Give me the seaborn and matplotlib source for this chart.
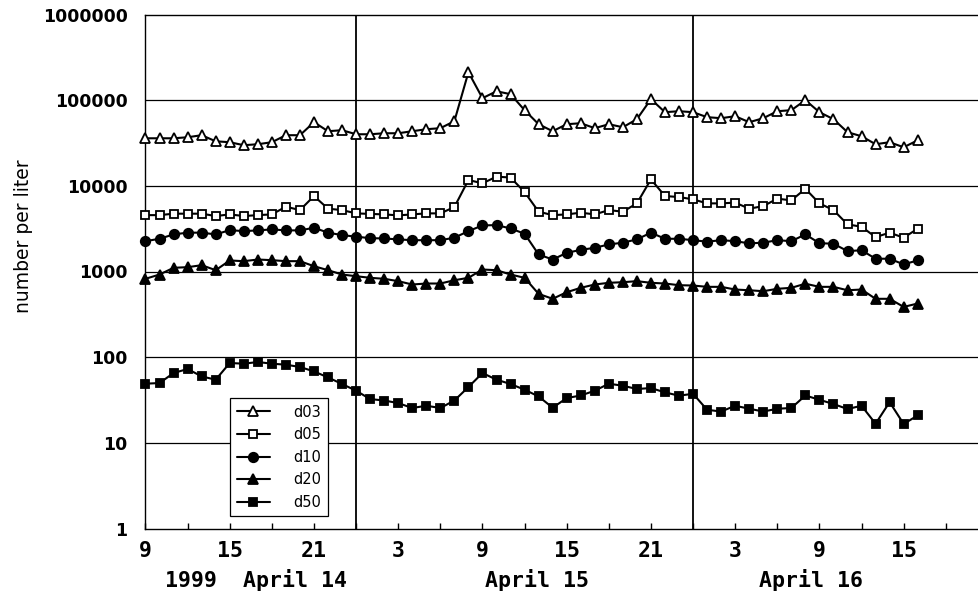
import numpy as np
import pandas as pd
import matplotlib
matplotlib.use("Agg")
import matplotlib.pyplot as plt
from matplotlib.ticker import FixedLocator, FixedFormatter, NullLocator
import seaborn as sns

# ---------------- data ----------------
hours = list(range(56))  # hourly samples starting 1999-04-14 09:00

d03 = [35900, 35900, 35900, 36900, 39000, 33100, 32300, 29800, 30600, 32300,
       39000, 39000, 55300, 43400, 44600, 40000, 40000, 41100, 41100, 43400,
       45800, 47100, 56800, 212000, 105500, 127000, 117500, 76400, 52400, 43400,
       52400, 53800, 47100, 52400, 48300, 60000, 102800, 72400, 74300, 72400,
       63300, 61600, 65000, 55300, 61600, 74300, 76400, 100000, 72400, 60000,
       42300, 37900, 30600, 32300, 28200, 34000]
d05 = [4550, 4550, 4730, 4730, 4730, 4440, 4640, 4440, 4550, 4640,
       5710, 5210, 7600, 5410, 5210, 4770, 4700, 4640, 4520, 4640,
       4770, 4770, 5650, 11700, 10700, 12800, 12500, 8460, 4990, 4550,
       4640, 4860, 4640, 5210, 4990, 6240, 11900, 7600, 7400, 6950,
       6240, 6240, 6370, 5410, 5800, 7080, 6770, 9230, 6240, 5210,
       3550, 3330, 2520, 2840, 2480, 3160]
d10 = [2260, 2410, 2710, 2840, 2840, 2710, 3040, 2960, 3020, 3100,
       3020, 3020, 3240, 2840, 2660, 2550, 2450, 2430, 2370, 2320,
       2320, 2320, 2480, 2960, 3450, 3480, 3180, 2760, 1580, 1380,
       1650, 1790, 1890, 2070, 2170, 2370, 2840, 2410, 2410, 2320,
       2230, 2320, 2260, 2130, 2170, 2320, 2260, 2710, 2140, 2110,
       1730, 1770, 1410, 1410, 1210, 1350]
d20 = [822, 922, 1105, 1123, 1185, 1036, 1345, 1320, 1380, 1356,
       1320, 1320, 1153, 1036, 922, 881, 844, 822, 771, 705,
       724, 724, 791, 844, 1055, 1036, 922, 844, 548, 480,
       573, 645, 705, 738, 750, 771, 738, 724, 692, 686,
       662, 662, 616, 604, 589, 628, 645, 720, 662, 662,
       604, 616, 480, 480, 386, 423]
d50 = [49.0, 49.9, 65.3, 72.8, 59.6, 54.6, 85.5, 83.9, 87.8, 83.9,
       81.7, 76.8, 68.2, 58.0, 48.6, 40.6, 32.4, 31.2, 29.1, 25.5,
       27.1, 25.5, 31.2, 44.8, 65.3, 54.6, 48.6, 41.7, 34.8, 25.7,
       33.3, 35.7, 40.6, 49.0, 46.4, 42.5, 43.6, 38.8, 35.5, 37.4,
       24.3, 23.2, 27.1, 25.0, 23.2, 25.0, 25.5, 35.7, 31.8, 28.4,
       24.8, 27.1, 16.7, 29.9, 16.6, 20.9]

series_names = ["d03", "d05", "d10", "d20", "d50"]
series_values = [d03, d05, d10, d20, d50]

tick_hours = [0, 6, 12, 18, 24, 30, 36, 42, 48, 54]
tick_labels = ["9", "15", "21", "3", "9", "15", "21", "3", "9", "15"]
minor_hours = [3, 9, 15, 21, 27, 33, 39, 45, 51, 57]
day_breaks = [15, 39]
date_labels = ["1999  April 14", "April 15", "April 16"]
y_ticks = [1, 10, 100, 1000, 10000, 100000, 1000000]
y_labels = ["1", "10", "100", "1000", "10000", "100000", "1000000"]

# ---------------- style ----------------
sns.set_style("white")
plt.rcParams["font.family"] = ["DejaVu Sans"]
plt.rcParams["text.color"] = "black"
plt.rcParams["xtick.color"] = "black"
plt.rcParams["ytick.color"] = "black"
plt.rcParams["axes.labelcolor"] = "black"

W, H = 979, 612
fig = plt.figure(figsize=(W / 100, H / 100), dpi=100)
x0_px, y_top_px, y_bot_px = 145.5, 14.5, 528.5
ax = fig.add_axes([x0_px / W, 1 - y_bot_px / H, 1 - x0_px / W, (y_bot_px - y_top_px) / H])

marker_styles = {
    "d03": dict(marker="^", mfc="white", ms=7.2),
    "d05": dict(marker="s", mfc="white", ms=6.3),
    "d10": dict(marker="o", mfc="black", ms=6.8),
    "d20": dict(marker="^", mfc="black", ms=7.2),
    "d50": dict(marker="s", mfc="black", ms=6.0),
}

for name, vals in zip(series_names, series_values):
    df = pd.DataFrame({"hour": hours, "value": vals})
    st = marker_styles[name]
    sns.lineplot(data=df, x="hour", y="value", ax=ax, color="black", lw=1.5,
                 marker=st["marker"], markersize=st["ms"], markerfacecolor=st["mfc"],
                 markeredgecolor="black", markeredgewidth=1.3, label=name,
                 clip_on=False, zorder=5)

ax.set_yscale("log")
ax.set_ylim(1, 1e6)
ax.set_xlim(0, (W - x0_px) / 14.04)

# grid / frame
for yv in y_ticks[1:-1]:
    ax.axhline(yv, color="black", lw=0.9, zorder=1)
for xb in day_breaks:
    ax.axvline(xb, color="black", lw=1.3, zorder=1)
for s in ["left", "bottom", "top"]:
    ax.spines[s].set_visible(True)
    ax.spines[s].set_color("black")
    ax.spines[s].set_linewidth(1.0)
ax.spines["right"].set_visible(False)

ax.yaxis.set_major_locator(FixedLocator(y_ticks))
ax.yaxis.set_major_formatter(FixedFormatter(y_labels))
ax.yaxis.set_minor_locator(NullLocator())
ax.tick_params(axis="y", which="both", length=0, pad=13, labelsize=12.5, labelcolor="black")
for t in ax.get_yticklabels():
    t.set_fontweight("bold")

ax.xaxis.set_major_locator(FixedLocator(tick_hours))
ax.xaxis.set_major_formatter(FixedFormatter(tick_labels))
ax.xaxis.set_minor_locator(FixedLocator(minor_hours))
ax.tick_params(axis="x", which="both", direction="in", length=4, width=1, color="black",
               bottom=True, top=False, pad=9, labelcolor="black")
ax.tick_params(axis="x", which="major", labelsize=15.5)
for t in ax.get_xticklabels():
    t.set_family("DejaVu Sans Mono")
    t.set_fontweight("bold")

ax.set_xlabel("")
ax.set_ylabel("")
fig.text(24 / W, 1 - 236 / H, "number per liter", rotation=90, ha="center", va="center",
         fontsize=13.5, color="black")

date_x = [256, 537, 811]
for lbl, xp in zip(date_labels, date_x):
    fig.text(xp / W, 1 - 580 / H, lbl, ha="center", va="center", fontsize=15.5,
             family="DejaVu Sans Mono", fontweight="bold", color="black")

leg = ax.legend(loc="upper left", bbox_to_anchor=(230 / W, 1 - 398 / H),
                bbox_transform=fig.transFigure, frameon=True, fancybox=False,
                edgecolor="black", framealpha=1, fontsize=10.5, labelspacing=0.52,
                handlelength=2.3, handletextpad=1.6, borderpad=0.45, borderaxespad=0,
                markerfirst=True)
leg.get_frame().set_linewidth(0.9)
leg.set_zorder(10)
for t in leg.get_texts():
    t.set_family(["Liberation Sans Narrow", "DejaVu Sans"])
    t.set_color("black")

fig.savefig("out.png", dpi=100)
